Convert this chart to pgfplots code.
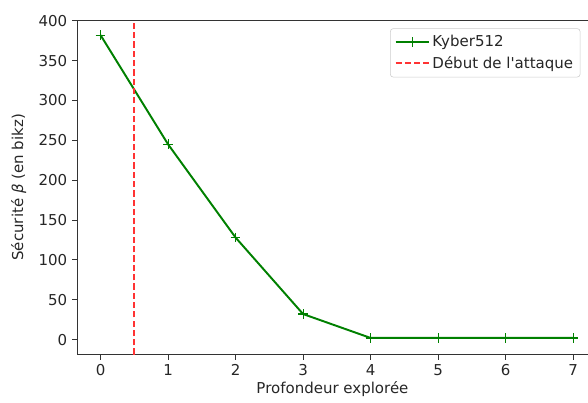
\documentclass[border=0pt]{standalone}
\usepackage{pgfplots}
\pgfplotsset{compat=1.18}
\usepackage{fontspec}
\setmainfont{DejaVu Sans}
\newfontfamily\plainfont{DejaVu Sans}
\usetikzlibrary{calc}
\definecolor{mplgreen}{HTML}{008000}
\definecolor{mplred}{HTML}{FF3333}
\begin{document}
\begin{tikzpicture}
\begin{axis}[
  scale only axis,
  width=368pt, height=241pt,
  xmin=-0.35, xmax=7.22,
  ymin=-19, ymax=401,
  xtick={0,1,2,3,4,5,6,7},
  ytick={0,50,100,150,200,250,300,350,400},
  tick align=outside,
  xtick pos=bottom, ytick pos=left,
  major tick length=3.5pt,
  tick style={black!80, line width=0.6pt},
  axis line style={black!80, line width=0.6pt},
  /pgf/number format/assume math mode=true,
  tick label style={font=\fontsize{10.8}{12}\selectfont, text=black!85},
  label style={font=\fontsize{10.8}{12}\selectfont, text=black!85},
  xlabel={Profondeur explorée},
  ylabel={Sécurité {\itshape β} (en bikz)},
  xlabel style={yshift=3pt},
  ylabel style={yshift=2pt},
  legend style={at={(0.985,0.975)}, anchor=north east, draw=black!20, rounded corners=2pt,
    font=\fontsize{10.8}{12}\selectfont, row sep=1pt, inner sep=3pt, text=black!85},
  legend image code/.code={\draw[mark repeat=2,mark phase=2,#1] plot coordinates {(0cm,0cm) (0.42cm,0cm) (0.84cm,0cm)};},
  legend cell align=left,
  clip=false,
]
\addplot[mplgreen, line width=1.4pt, mark=+, mark size=3.5pt, mark options={line width=0.8pt}]
  coordinates {(0,382) (1,245) (2,128) (3,32) (4,2) (5,2) (6,2) (7,2)};
\addlegendentry{Kyber512}
\addplot[mplred, line width=1.4pt, dash pattern=on 4.5pt off 2.2pt]
  coordinates {(0.5,-19) (0.5,401)};
\addlegendentry{Début de l{\plainfont '}attaque}
\end{axis}
\pgfresetboundingbox
\useasboundingbox ($(current axis.south west)+(-55.4pt,-34.6pt)$) rectangle ($(current axis.north east)+(0pt,14.4pt)$);
\end{tikzpicture}
\end{document}
